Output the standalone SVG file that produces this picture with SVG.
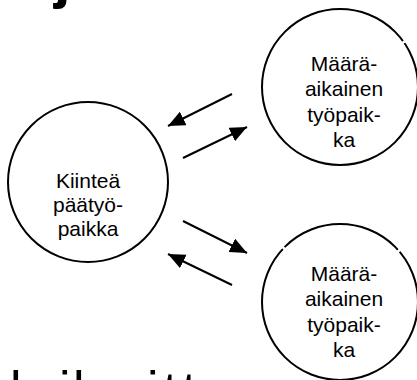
<svg xmlns="http://www.w3.org/2000/svg" width="417" height="380" viewBox="0 0 417 380">
<defs>
<style>
.node circle{fill:#fff;stroke:#000;stroke-width:2}
.lbl{font-family:"Liberation Sans",Arial,sans-serif;font-size:21px;fill:#000;text-anchor:middle}
.conn line{stroke:#000;stroke-width:2;fill:none}
.frag{font-family:"Liberation Sans",Arial,sans-serif;fill:#000}
.gap{stroke:#fff;stroke-width:2.5}
</style>
<marker id="ah" markerUnits="userSpaceOnUse" markerWidth="20" markerHeight="16" refX="17" refY="7.5" orient="auto">
<path d="M0,0 L17,7.5 L0,15 Z" fill="#000"/>
</marker>
</defs>
<rect width="417" height="380" fill="#fff"/>
<text class="frag" x="54" y="-3" font-size="60" font-weight="bold">j</text>
<text class="frag" x="10 35 59 73 85 118 147 163 182" y="408" font-size="52">k ilmoitt</text>
<g id="fixed" class="node">
<circle cx="88" cy="182" r="80"/>
<text class="lbl" x="88" y="188">Kiinteä</text>
<text class="lbl" x="88" y="212">päätyö-</text>
<text class="lbl" x="88" y="236">paikka</text>
</g>
<g id="temp1" class="node">
<circle cx="340" cy="87" r="78"/>
<line class="gap" x1="399" y1="45.5" x2="408.6" y2="38.5"/>
<text class="lbl" x="344" y="71">Määrä-</text>
<text class="lbl" x="344" y="96">aikainen</text>
<text class="lbl" x="344" y="122">työpaik-</text>
<text class="lbl" x="344" y="147">ka</text>
</g>
<g id="temp2" class="node">
<circle cx="340" cy="302" r="78"/>
<line class="gap" x1="288.2" y1="252.3" x2="279.5" y2="244"/>
<line class="gap" x1="394.3" y1="254.7" x2="403.3" y2="246.8"/>
<text class="lbl" x="344" y="281">Määrä-</text>
<text class="lbl" x="344" y="306">aikainen</text>
<text class="lbl" x="344" y="332">työpaik-</text>
<text class="lbl" x="344" y="357">ka</text>
</g>
<g id="connectors" class="conn">
<line x1="232" y1="94" x2="168" y2="126" marker-end="url(#ah)"/>
<line x1="183" y1="158" x2="247" y2="127" marker-end="url(#ah)"/>
<line x1="183" y1="221" x2="247" y2="253" marker-end="url(#ah)"/>
<line x1="232" y1="285" x2="168" y2="254" marker-end="url(#ah)"/>
</g>
</svg>
